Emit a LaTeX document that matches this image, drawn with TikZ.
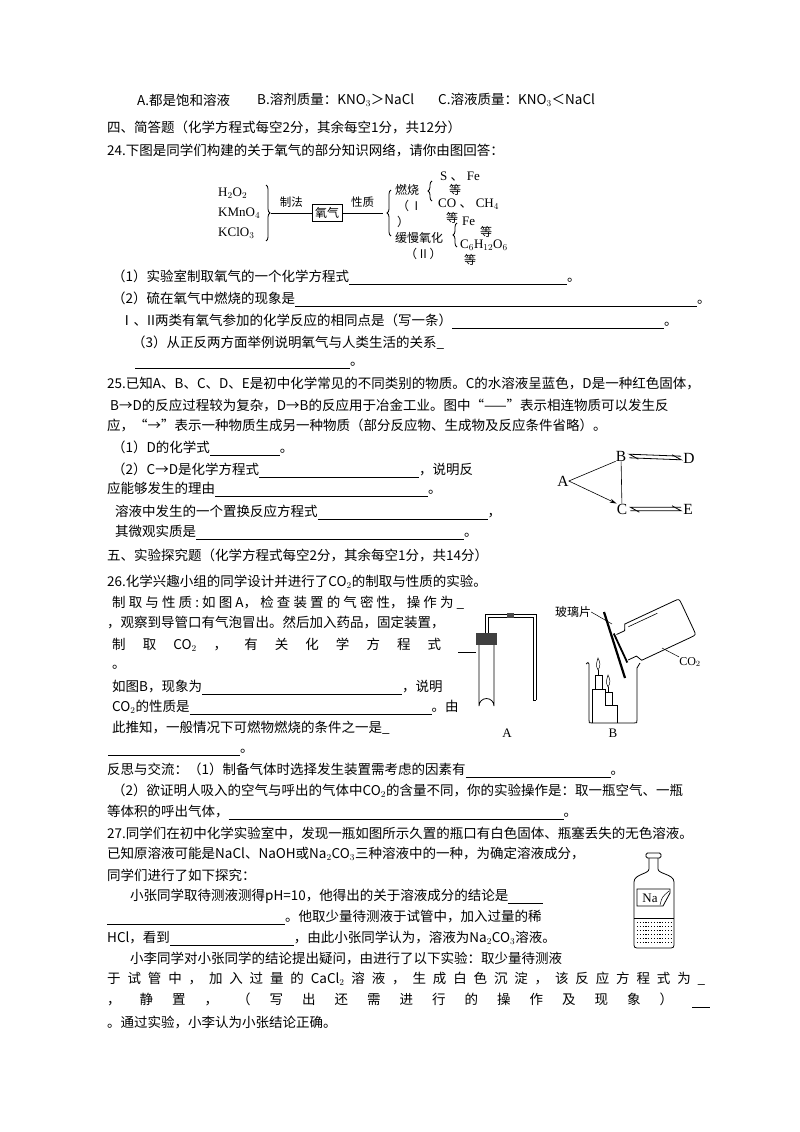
\documentclass[tikz,border=0pt]{standalone}
\usepackage{fontspec}
\setmainfont{Noto Sans CJK SC}
\newfontfamily\lat{Liberation Serif}
\usetikzlibrary{arrows.meta,decorations.pathreplacing}
\newcommand{\blk}[1]{\rule[-3pt]{#1pt}{0.6pt}}
\newcommand{\spr}[2]{\makebox[#1pt][s]{#2}}
\newcommand{\dun}{{\rmfamily\fontspec{Noto Sans CJK SC}、}}
\begin{document}
\begin{tikzpicture}[x=1pt,y=-1pt,
  t/.style={anchor=west,inner sep=0pt,font=\fontsize{13.5}{15}\selectfont},
  d/.style={inner sep=0pt,font=\lat\fontsize{13}{14}\selectfont},
  L/.style={inner sep=0pt,font=\lat\fontsize{15.5}{16}\selectfont},
  ln/.style={line width=0.6pt},
  br/.style={decorate,decoration={brace,amplitude=4pt},line width=0.8pt}]
\useasboundingbox[fill=white] (0,0) rectangle (800,1132);
% header
\node[t] (a1) at (137,100) {A.都是饱和溶液};
\node[t] (a2) at (257,100) {B.溶剂质量：KNO$_3$＞NaCl};
\node[t] (a3) at (438,100) {C.溶液质量：KNO$_3$＜NaCl};
\node[t] (h4) at (107,127) {四、简答题（化学方程式每空2分，其余每空1分，共12分）};
\node[t] (q24) at (107,150) {24.下图是同学们构建的关于氧气的部分知识网络，请你由图回答：};
% oxygen diagram
\node[d,anchor=west] (m1) at (218,193) {H$_2$O$_2$};
\node[d,anchor=west] (m2) at (218,213) {KMnO$_4$};
\node[d,anchor=west] (m3) at (218,233) {KClO$_3$};
\draw[br] (266,185) -- (266,241);
\node[draw,line width=0.9pt,inner sep=3pt,font=\fontsize{12}{12}\selectfont] (ox) at (327,213) {氧气};
\coordinate (bl) at (271,213);
\coordinate (brr) at (383,213);
\draw[ln] (bl) -- (ox.west) node[midway,above=2pt,font=\fontsize{11.5}{12}\selectfont] (zf) {制法};
\draw[ln] (ox.east) -- (brr) node[midway,above=2pt,font=\fontsize{11.5}{12}\selectfont] (xz) {性质};
\draw[br] (391,236) -- (391,190);
\node[t,font=\fontsize{12}{12}\selectfont] (rs) at (395,190) {燃烧};
\node[t,font=\fontsize{12}{12}\selectfont] (r1) at (397,206) {（\ \ I};
\node[t,font=\fontsize{12}{12}\selectfont] (r2) at (397,222) {）};
\node[t,font=\fontsize{12}{12}\selectfont] (hm) at (395,238) {缓慢氧化};
\node[t,font=\fontsize{12}{12}\selectfont] (r3) at (405,254) {（ II ）};
\draw[br] (432,201) -- (432,181);
\node[d,anchor=west] (s1) at (440,177) {S \dun\ Fe};
\node[t,font=\fontsize{12}{12}\selectfont] (s2) at (449,190) {等};
\node[d,anchor=west] (s3) at (438,204) {CO \dun\ CH$_4$};
\node[t,font=\fontsize{12}{12}\selectfont] (s4) at (446,218) {等};
\draw[br] (457,247) -- (457,223);
\node[d,anchor=west] (f1) at (462,221) {Fe};
\node[t,font=\fontsize{12}{12}\selectfont] (f2) at (480,232) {等};
\node[d,anchor=west] (f3) at (460,245) {C$_6$H$_{12}$O$_6$};
\node[t,font=\fontsize{12}{12}\selectfont] (f4) at (464,260) {等};
% questions 24
\node[t] (b1) at (112,277) {（1）实验室制取氧气的一个化学方程式\blk{218}。};
\node[t] (b2) at (112,299) {（2）硫在氧气中燃烧的现象是\blk{402}。};
\node[t] (b3) at (120,321) {Ⅰ、II两类有氧气参加的化学反应的相同点是（写一条）\blk{212}。};
\node[t] (b4) at (132,343) {（3）从正反两方面举例说明氧气与人类生活的关系\_};
\node[t] (b5) at (135,365) {\blk{215}。};
% 25
\node[t] (c1) at (107,383) {25.已知A、B、C、D、E是初中化学常见的不同类别的物质。C的水溶液呈蓝色，D是一种红色固体，};
\node[t] (c2) at (110,405) {B→D的反应过程较为复杂，D→B的反应用于冶金工业。图中“——”表示相连物质可以发生反};
\node[t] (c3) at (107,425) {应，“→”表示一种物质生成另一种物质（部分反应物、生成物及反应条件省略）。};
\node[t] (c4) at (112,448) {（1）D的化学式\blk{70}。};
\node[t] (c5) at (112,470) {（2）C→D是化学方程式\blk{160}，说明反};
\node[t] (c6) at (107,489) {应能够发生的理由\blk{213}。};
\node[t] (c7) at (115,512) {溶液中发生的一个置换反应方程式\blk{170}，};
\node[t] (c8) at (115,532) {其微观实质是\blk{268}。};
% ABCDE
\node[L] (A) at (563,481) {A};
\node[L] (B) at (621,456) {B};
\node[L] (D) at (689,458) {D};
\node[L] (C) at (622,509) {C};
\node[L] (E) at (688,509) {E};
\draw[ln] (A.east) -- (B.south west);
\draw[ln,-{Stealth[length=7pt,width=4pt]}] (A.east) -- (C.north west);
\draw[ln] (B) -- (C);
\draw[line width=0.8pt] ([xshift=3pt,yshift=-1.8pt]B.east) -- ([xshift=-2pt,yshift=-1.8pt]D.west) -- ++(-9,-5);
\draw[line width=0.8pt] ([xshift=-2pt,yshift=1.8pt]D.west) -- ([xshift=3pt,yshift=1.8pt]B.east) -- ++(9,5);
\draw[line width=0.8pt] ([xshift=3pt,yshift=-1.8pt]C.east) -- ([xshift=-2pt,yshift=-1.8pt]E.west) -- ++(-9,-5);
\draw[line width=0.8pt] ([xshift=-2pt,yshift=1.8pt]E.west) -- ([xshift=3pt,yshift=1.8pt]C.east) -- ++(9,5);
% 五 and 26
\node[t] (h5) at (107,555) {五、实验探究题（化学方程式每空2分，其余每空1分，共14分）};
\node[t] (e1) at (107,582) {26.化学兴趣小组的同学设计并进行了CO$_2$的制取与性质的实验。};
\node[t] (e2) at (112,603) {\spr{352}{制\hfill 取\hfill 与\hfill 性\hfill 质\hfill :\hfill 如\hfill 图\hfill A，\hfill 检\hfill 查\hfill 装\hfill 置\hfill 的\hfill 气\hfill 密\hfill 性，\hfill 操\hfill 作\hfill 为\hfill \_}};
\node[t] (e3) at (107,622) {，观察到导管口有气泡冒出。然后加入药品，固定装置，};
\node[t] (e4) at (112,645) {\spr{364}{制\hfill 取\hfill CO$_2$\hfill ，\hfill 有\hfill 关\hfill 化\hfill 学\hfill 方\hfill 程\hfill 式\hfill \blk{18}}};
\node[t] (e5) at (112,667) {。};
\node[t] (e6) at (112,687) {如图B，现象为\blk{200}，说明};
\node[t] (e7) at (112,707) {CO$_2$的性质是\blk{242}。由};
\node[t] (e8) at (112,728) {此推知，一般情况下可燃物燃烧的条件之一是\_};
\node[t] (e9) at (108,752) {\blk{132}。};
% apparatus A
\draw[line width=0.8pt] (479,643) -- (479,706) arc[start angle=180,end angle=360,radius=7.5] -- (494,643);
\fill[black!75] (476,633) rectangle (497,645);
\draw[line width=0.8pt] (485,633) -- (485,614) -- (536,614) -- (536,700);
\draw[line width=0.8pt] (488,633) -- (488,617) -- (533,617) -- (533,700) -- (536,700);
\fill[black!70] (507,613) rectangle (514,618);
\node[d] (lA) at (507,733) {A};
% apparatus B
\node[inner sep=0pt,font=\fontsize{12}{12}\selectfont] (glass) at (573,612) {玻璃片};
\draw[line width=0.5pt] (glass.east) -- (612,624);
\draw[line width=2.2pt] (604,612) -- (625,678);
\begin{scope}[shift={(655,632)},rotate=25]
 \draw[line width=0.8pt] (-36,-14) -- (-27,-14) -- (-24,-20) -- (30,-20) .. controls (36,-20) .. (36,-14) -- (36,14) .. controls (36,20) .. (30,20) -- (-24,20) -- (-27,14) -- (-36,14);
 \draw[line width=0.6pt] (-22,-16) -- (10,-16);
 \draw[line width=1.8pt] (-38,-16) -- (-38,16);
\end{scope}
\node[inner sep=0pt,font=\lat\fontsize{12}{12}\selectfont] (co2) at (690,662) {CO$_2$};
\draw[line width=0.5pt] (co2.north west) -- (662,648);
\draw[line width=0.8pt] (586,664) .. controls (588,662) .. (589,664) -- (589,720) .. controls (589,723) .. (592,723) -- (634,723) .. controls (637,723) .. (637,720) -- (637,668) -- (640,663);
\draw[line width=0.6pt] (592,723) -- (592,689) -- (605,689) -- (605,705) -- (617,705) -- (617,723);
\draw[line width=0.6pt] (595,689) -- (595,675) -- (602,675) -- (602,689);
\draw[line width=0.6pt] (605,705) -- (605,692) -- (612,692) -- (612,705);
\draw[line width=0.5pt] (598,675) -- (598,670) (608,692) -- (608,687);
\draw[line width=0.5pt] (598,670) .. controls (595,665) and (597,662) .. (598,658) .. controls (600,662) and (601,666) .. (598,670);
\draw[line width=0.5pt] (608,687) .. controls (605,682) and (607,679) .. (608,675) .. controls (610,679) and (611,683) .. (608,687);
\node[d] (lB) at (613,733) {B};
% reflection
\node[t] (g1) at (107,770) {反思与交流：（1）制备气体时选择发生装置需考虑的因素有\blk{145}。};
\node[t] (g2) at (112,791) {（2）欲证明人吸入的空气与呼出的气体中CO$_2$的含量不同，你的实验操作是：取一瓶空气、一瓶};
\node[t] (g3) at (107,812) {等体积的呼出气体，\blk{335}。};
% 27
\node[t] (k1) at (107,833) {27.同学们在初中化学实验室中，发现一瓶如图所示久置的瓶口有白色固体、瓶塞丢失的无色溶液。};
\node[t] (k2) at (107,854) {已知原溶液可能是NaCl、NaOH或Na$_2$CO$_3$三种溶液中的一种，为确定溶液成分，};
\node[t] (k3) at (107,875) {同学们进行了如下探究：};
\node[t] (k4) at (130,896) {小张同学取待测液测得pH=10，他得出的关于溶液成分的结论是\blk{35}};
\node[t] (k5) at (107,917) {\blk{178}。他取少量待测液于试管中，加入过量的稀};
\node[t] (k6) at (107,938) {HCl，看到\blk{124}，由此小张同学认为，溶液为Na$_2$CO$_3$溶液。};
\node[t] (k7) at (130,958) {小李同学对小张同学的结论提出疑问，由进行了以下实验：取少量待测液};
\node[t] (k8) at (107,979) {\spr{598}{于\hfill 试\hfill 管\hfill 中\hfill ，\hfill 加\hfill 入\hfill 过\hfill 量\hfill 的\hfill CaCl$_2$\hfill 溶\hfill 液\hfill ，\hfill 生\hfill 成\hfill 白\hfill 色\hfill 沉\hfill 淀\hfill ，\hfill 该\hfill 反\hfill 应\hfill 方\hfill 程\hfill 式\hfill 为\hfill \_}};
\node[t] (k9) at (107,1000) {\spr{603}{，\hfill 静\hfill 置\hfill ，\hfill （\hfill 写\hfill 出\hfill 还\hfill 需\hfill 进\hfill 行\hfill 的\hfill 操\hfill 作\hfill 及\hfill 现\hfill 象\hfill ）\hfill \blk{18}}};
\node[t] (k10) at (107,1022) {。通过实验，小李认为小张结论正确。};
% bottle
\draw[line width=0.8pt,rounded corners=1.5pt] (646,853) rectangle (661,858);
\draw[line width=0.8pt] (649,858) -- (649,869) .. controls (649,874) and (634,874) .. (634,882) -- (634,942) .. controls (634,948) .. (640,948) -- (668,948) .. controls (674,948) .. (674,942) -- (674,882) .. controls (674,874) and (658,874) .. (658,869) -- (658,858);
\draw[line width=0.8pt] (637,889) -- (670,889) -- (670,893) -- (663,906) -- (637,906) -- cycle;
\draw[line width=0.5pt] (660,905) .. controls (662,897) .. (669,891);
\node[inner sep=0pt,font=\lat\fontsize{13}{13}\selectfont] (na) at (650,898) {Na};
\draw[line width=0.6pt] (634,918) -- (674,918);
\foreach \yy in {922,926,...,944} {\draw[line width=0.4pt,dash pattern=on 1.2pt off 1.6pt] (637,\yy) -- (672,\yy);}
\end{tikzpicture}
\end{document}
